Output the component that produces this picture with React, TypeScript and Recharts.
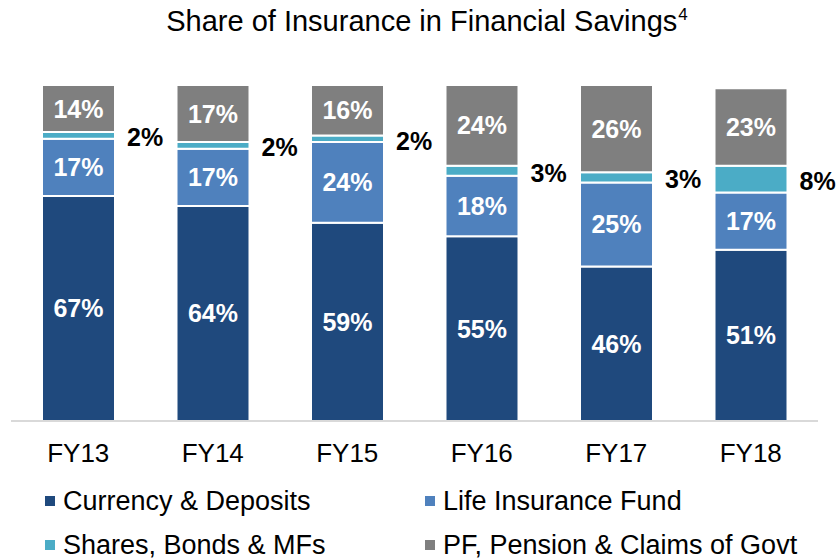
import React from 'react';
import { BarChart, Bar, XAxis, YAxis, LabelList, Legend } from 'recharts';

const categories = ['FY13', 'FY14', 'FY15', 'FY16', 'FY17', 'FY18'];
const currencyDeposits = [67, 64, 59, 55, 46, 51];
const lifeInsurance = [17, 17, 24, 18, 25, 17];
const sharesBonds = [2, 2, 2, 3, 3, 8];
const pfPension = [14, 17, 16, 24, 26, 23];

const seriesNames = [
  'Currency & Deposits',
  'Life Insurance Fund',
  'Shares, Bonds & MFs',
  'PF, Pension & Claims of Govt',
];
const colors = ['#1F497D', '#4F81BD', '#4BACC6', '#7F7F7F'];

const data = categories.map((c, i) => ({
  name: c,
  currency: currencyDeposits[i],
  life: lifeInsurance[i],
  shares: sharesBonds[i],
  pf: pfPension[i],
}));

const FONT = '"Liberation Sans", Arial, sans-serif';

const InsideLabel = (props: any) => {
  const { x, y, width, height, value } = props;
  return (
    <text
      x={x + width / 2}
      y={y + height / 2}
      fill="#ffffff"
      fontSize={25}
      fontWeight="bold"
      fontFamily={FONT}
      textAnchor="middle"
      dominantBaseline="central"
    >
      {value}%
    </text>
  );
};

const OutsideLabel = (props: any) => {
  const { x, y, width, height, value } = props;
  return (
    <text
      x={x + width + 12}
      y={y + height / 2 + 2}
      fill="#000000"
      fontSize={25}
      fontWeight="bold"
      fontFamily={FONT}
      textAnchor="start"
      dominantBaseline="central"
    >
      {value}%
    </text>
  );
};

const legendPos = [
  { left: 45, top: 22 },
  { left: 425, top: 22 },
  { left: 45, top: 66 },
  { left: 425, top: 66 },
];

const CustomLegend = () => (
  <div style={{ position: 'relative', width: 838, height: 80, fontFamily: FONT }}>
    {seriesNames.map((n, i) => (
      <div
        key={n}
        style={{
          position: 'absolute',
          left: legendPos[i].left,
          top: legendPos[i].top - 15,
          height: 30,
          display: 'flex',
          alignItems: 'center',
          whiteSpace: 'nowrap',
        }}
      >
        <span style={{ width: 10, height: 10, background: colors[i], display: 'inline-block' }} />
        <span style={{ marginLeft: 8, fontSize: 27, color: '#000', lineHeight: '30px' }}>{n}</span>
      </div>
    ))}
  </div>
);

export default function App() {
  return (
    <div style={{ position: 'absolute', left: 0, top: 0, width: 838, height: 559, background: '#fff' }}>
      <div
        style={{
          position: 'absolute',
          top: 7,
          left: 0,
          width: 838,
          paddingLeft: 16,
          boxSizing: 'border-box',
          textAlign: 'center',
          fontFamily: FONT,
          fontSize: 29,
          lineHeight: '29px',
          color: '#000',
        }}
      >
        Share of Insurance in Financial Savings
        <span style={{ fontSize: 17, position: 'relative', top: -11, marginLeft: 1 }}>4</span>
      </div>
      <BarChart
        width={838}
        height={559}
        data={data}
        margin={{ top: 85, right: 20, left: 11, bottom: 0 }}
        barSize={73}
      >
        <XAxis
          dataKey="name"
          axisLine={{ stroke: '#D9D9D9', strokeWidth: 2 }}
          tickLine={false}
          tickSize={0}
          tickMargin={23}
          height={58}
          interval={0}
          tick={{ fill: '#000', fontSize: 26, fontFamily: FONT }}
        />
        <YAxis hide domain={[0, 100]} allowDataOverflow />
        <Legend
          verticalAlign="bottom"
          wrapperStyle={{ left: 0, width: 838 }}
          content={<CustomLegend />}
        />
        <Bar dataKey="currency" stackId="a" fill={colors[0]} stroke="#fff" strokeWidth={2} isAnimationActive={false}>
          <LabelList dataKey="currency" content={<InsideLabel />} />
        </Bar>
        <Bar dataKey="life" stackId="a" fill={colors[1]} stroke="#fff" strokeWidth={2} isAnimationActive={false}>
          <LabelList dataKey="life" content={<InsideLabel />} />
        </Bar>
        <Bar dataKey="shares" stackId="a" fill={colors[2]} stroke="#fff" strokeWidth={2} isAnimationActive={false}>
          <LabelList dataKey="shares" content={<OutsideLabel />} />
        </Bar>
        <Bar dataKey="pf" stackId="a" fill={colors[3]} stroke="#fff" strokeWidth={2} isAnimationActive={false}>
          <LabelList dataKey="pf" content={<InsideLabel />} />
        </Bar>
      </BarChart>
    </div>
  );
}
